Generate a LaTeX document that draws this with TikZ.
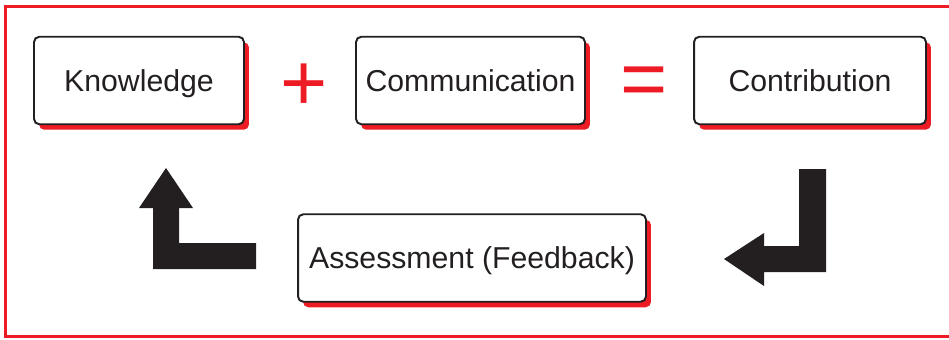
\documentclass[tikz,border=0pt]{standalone}
\usepackage{fontspec}
\setmainfont{Liberation Sans}
\usetikzlibrary{shadows}
\definecolor{framered}{HTML}{ED1C24}
\definecolor{ink}{HTML}{231F20}

\begin{document}
\begin{tikzpicture}[x=0.02cm, y=-0.02cm,
  stepbox/.style={draw=ink, line width=1.1pt, rounded corners=3pt, fill=white,
    minimum height=1.75cm, inner sep=0pt, text=ink,
    text height=12.3pt, text depth=0pt,
    font=\fontsize{17.2}{20}\selectfont,
    general shadow={fill=framered, shadow xshift=0.1cm, shadow yshift=-0.11cm}},
  op/.style={text=framered, inner sep=0pt, font=\fontsize{46}{46}\selectfont},
  bigarrow/.style={fill=ink}
]
  \useasboundingbox (0,0) rectangle (949,339);
  \draw[framered, line width=1.3pt] (960,6.5) -- (5.5,6.5) -- (5.5,336.5) -- (960,336.5);

  \node[stepbox, minimum width=4.2cm]  (know) at (139,80.5) {Knowledge};
  \node[stepbox, minimum width=4.58cm] (comm) at (470.5,80.5) {Communication};
  \node[stepbox, minimum width=4.64cm] (contr) at (810,80.5) {Contribution};
  \node[stepbox, minimum width=6.96cm] (assess) at (472,258) {Assessment (Feedback)};

  \node[op] (plus) at (304,87) {+};
  \node[op] (equals) at (644.5,86.5) {=};

  \fill[bigarrow] (153,269) -- (256,269) -- (256,243) -- (179,243) -- (179,208)
    -- (193,208) -- (166,168) -- (139,208) -- (153,208) -- cycle;
  \fill[bigarrow] (826,169) -- (826,272) -- (764,272) -- (764,286) -- (724,259)
    -- (764,233) -- (764,246) -- (799,246) -- (799,169) -- cycle;
\end{tikzpicture}
\end{document}
